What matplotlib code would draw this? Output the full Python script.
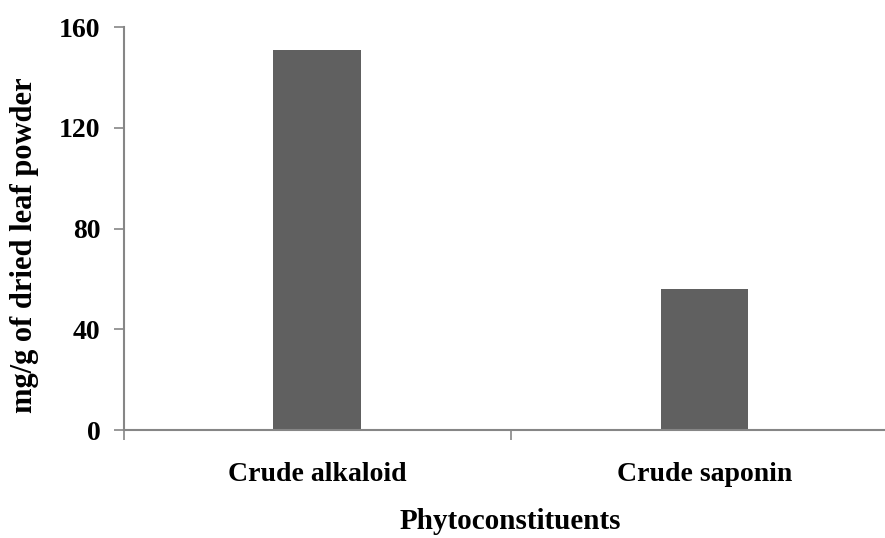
import matplotlib.pyplot as plt

categories = ["Crude alkaloid", "Crude saponin"]
values = [151, 56]
y_ticks = [0, 40, 80, 120, 160]

plt.rcParams["font.family"] = ["Liberation Serif", "DejaVu Serif"]
plt.rcParams["font.weight"] = "bold"

fig = plt.figure(figsize=(8.85, 5.38), dpi=100)
ax = fig.add_axes([0.140, 0.2007, 0.8747, 0.7491])

x = range(len(categories))
ax.bar(x, values, width=0.227, color="#606060")

ax.set_xlim(-0.5, 1.5)
ax.set_ylim(0, 160)
ax.set_yticks(y_ticks)
ax.set_yticklabels([str(v) for v in y_ticks], fontsize=20, fontweight="bold")

# category separators on the x axis
ax.set_xticks([-0.5, 0.5, 1.5])
ax.set_xticklabels([])
ax.set_xticks(list(x), minor=True)
ax.set_xticklabels(categories, minor=True, fontsize=20, fontweight="bold")
ax.tick_params(axis="x", which="minor", length=0, pad=23)
ax.tick_params(axis="x", which="major", direction="out", length=7, color="#868686", width=1.2)
ax.tick_params(axis="y", direction="out", length=7, color="#868686", width=1.2, pad=10)

for side in ["top", "right"]:
    ax.spines[side].set_visible(False)
for side in ["left", "bottom"]:
    ax.spines[side].set_color("#868686")
    ax.spines[side].set_linewidth(1.5)

fig.text(0.028, 0.545, "mg/g of dried leaf powder", rotation=90, ha="center", va="center",
         fontsize=22, fontweight="bold")
fig.text(0.577, 0.03, "Phytoconstituents", ha="center", va="center", fontsize=21, fontweight="bold")

fig.savefig("out.png", dpi=100)
